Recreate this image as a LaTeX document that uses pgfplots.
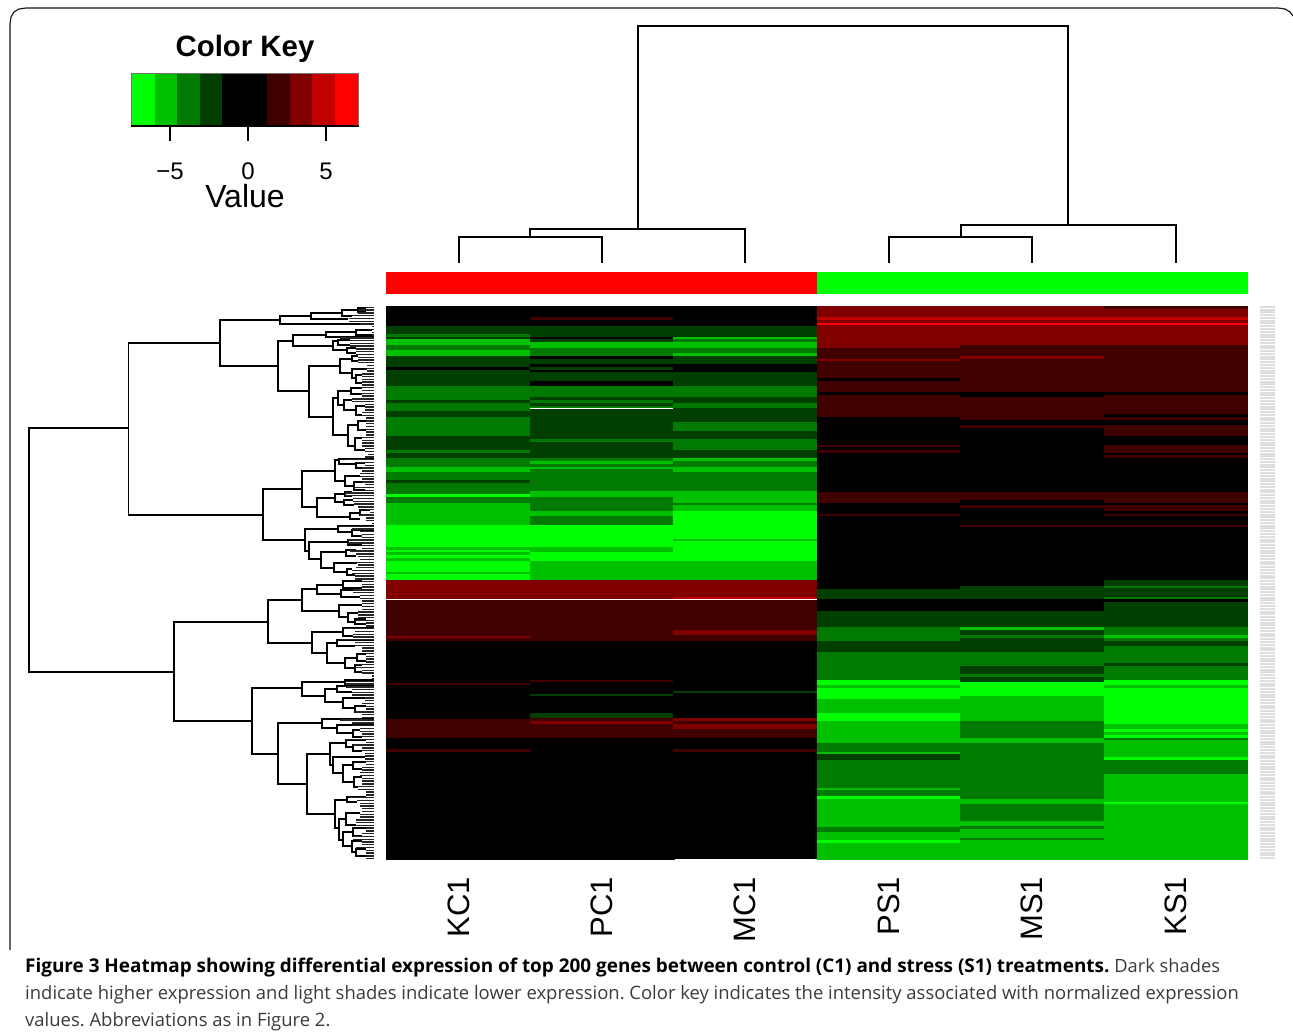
\documentclass[border=0pt]{standalone}
\usepackage{pgfplots}
\usepackage{fontspec}
\pgfplotsset{compat=1.18}
\setmainfont{Liberation Sans}
\newfontfamily\capfont{Open Sans}
\definecolor{m4}{HTML}{00FF00}\definecolor{m3}{HTML}{00C000}\definecolor{m2}{HTML}{007A00}\definecolor{m1}{HTML}{003F00}
\definecolor{z}{HTML}{000000}
\definecolor{p1}{HTML}{400000}\definecolor{p2}{HTML}{800000}\definecolor{p3}{HTML}{C00000}\definecolor{p4}{HTML}{FF0000}
\definecolor{w}{HTML}{FFFFFF}
\definecolor{capgray}{HTML}{3A3A3A}
\newcommand{\col}[3]{\foreach \a/\b/\c in {#3}{%
  \edef\t{\noexpand\addplot[fill=\c,draw=\c,line width=0.1pt,forget plot] coordinates {(#1,\a)(#2,\a)(#2,\b)(#1,\b)(#1,\a)};}\t}}
\newcommand{\rowfont}{\fontsize{2.7}{3}\selectfont}
\begin{document}
\begin{tikzpicture}
\path[use as bounding box] (0,0) rectangle (1293pt,1036pt);
\begin{axis}[at={(0,0)},anchor=south west,scale only axis,width=1293pt,height=1036pt,
  xmin=0,xmax=1293,ymin=0,ymax=1036,y dir=reverse,axis lines=none,clip=false,unbounded coords=jump]
% frame
\addplot[color=black!90,line width=1.2pt,forget plot] coordinates {(10,950)(10,24)(11,17)(14,12)(19,9)(26,8)(1278,8)(1285,9)(1290,12)(1293,16)};
% KC1
\col{386}{530}{306/326/z,326/334/m1,334/337/m2,337/339/m1,339/345/m3,345/350/m2,350/356/m3,356/367/m1,367/370/z,370/386/m1,386/400/m2,400/403/m1,403/411/m2,411/417/m1,417/436/m2,436/450/m1,450/453/m2,453/458/m1,458/467/m2,467/472/m3,472/480/m2,480/483/m1,483/494/m2,494/497/m4,497/503/m2,503/525/m3,525/547/m4,547/550/m3,550/552/m4,552/555/m3,555/558/m4,558/561/m3,561/572/m4,572/574/m3,574/580/m4,580/599/p2,599/600/w,600/636/p1,636/638/p2,638/641/p1,641/683/z,683/685/p1,685/719/z,719/738/p1,738/749/z,749/752/p1,752/859.05/z}
% PC1
\col{530}{673.6}{306/317/z,317/320/p1,320/326/z,326/337/m1,337/339/z,339/342/m1,342/348/m3,348/356/m2,356/359/z,359/364/m1,364/367/z,367/370/m1,370/372/z,372/381/m1,381/386/z,386/397/m2,397/400/m1,400/403/m2,403/406/m1,406/408/m2,408/409/w,409/439/m1,439/442/m2,442/458/m1,458/461/m2,461/464/m3,464/467/m2,467/469/m3,469/491/m2,491/497/m3,497/511/m2,511/516/m3,516/525/m2,525/547/m4,547/552/m3,552/561/m4,561/580/m3,580/599/p2,599/600/w,600/641/p1,641/680/z,680/682/p1,682/694/z,694/696/m1,696/713/z,713/718/m1,718/721/p1,721/724/p2,724/738/p1,738/859.05/z}
% MC1
\col{673}{817}{306/326/z,326/337/m1,337/339/m3,339/342/m2,342/348/m3,348/353/m2,353/356/m3,356/364/m1,364/372/z,372/386/m1,386/397/m2,397/403/m1,403/408/m2,408/422/m1,422/431/m2,431/439/m1,439/450/m2,450/458/m1,458/461/m3,461/467/m2,467/472/m3,472/491/m2,491/503/m3,503/505/m2,505/511/m3,511/539/m4,539/541/m3,541/561/m4,561/580/m3,580/597/p2,597/599/p3,599/600/w,600/630/p1,630/635/p2,635/641/p1,641/691/z,691/693/m1,693/718/z,718/721/p2,721/724/p1,724/729/p2,729/738/p1,738/749/z,749/752/p1,752/858.05/z}
% PS1
\col{817}{960}{306/317/p2,317/320/p3,320/323/p2,323/325/p4,325/348/p2,348/359/p1,359/361/p2,361/378/p1,378/381/z,381/392/p1,392/395/z,395/417/p1,417/445/z,445/447/p1,447/450/z,450/453/p1,453/492/z,492/503/p1,503/514/z,514/516/p1,516/589/z,589/599/m1,599/611/z,611/627/m1,627/641/m2,641/652/m1,652/680/m2,680/685/m4,685/688/m3,688/699/m4,699/713/m3,713/721/m4,721/743/m3,743/752/m2,752/754/m3,754/760/m1,760/788/m2,788/790/m3,790/796/m2,796/799/m4,799/827/m3,827/832/m2,832/840/m3,840/843/m4,843/859.05/m3}
% MS1
\col{960}{1104}{306/317/p2,317/320/p3,320/323/p2,323/325/p4,325/345/p2,345/356/p1,356/359/p2,359/392/p1,392/397/z,397/420/p1,420/425/z,425/428/p1,428/492/z,492/500/p1,500/505/z,505/508/p1,508/525/z,525/527/p1,527/586/z,586/599/m1,599/611/z,611/627/m1,627/630/m3,630/635/m1,635/638/m2,638/652/m1,652/666/m2,666/674/m1,674/677/m2,677/682/m1,682/696/m4,696/721/m3,721/738/m2,738/743/m3,743/799/m2,799/804/m3,804/821/m2,821/826/m3,826/829/m2,829/838/m3,838/840/m2,840/859.05/m3}
% KS1
\col{1104}{1247.05}{306/309/p1,309/317/p2,317/320/p3,320/323/p2,323/325/p4,325/345/p2,345/392/p1,392/395/z,395/414/p1,414/417/z,417/420/p1,420/425/z,425/436/p1,436/445/z,445/453/p1,453/455/z,455/458/p1,458/492/z,492/503/p1,503/505/z,505/511/p1,511/514/z,514/516/p1,516/525/z,525/527/p1,527/580/z,580/586/m1,586/588/m2,588/597/m1,597/599/m2,599/602/z,602/627/m1,627/635/m2,635/638/m3,638/641/m2,641/646/m1,646/663/m2,663/666/m1,666/680/m2,680/685/m4,685/688/m3,688/724/m4,724/729/m3,729/732/m4,732/735/m3,735/738/m4,738/740/m2,740/757/m3,757/760/m4,760/774/m2,774/802/m3,802/804/m4,804/859.05/m3}
% side colour bars
\col{386}{817}{272/293.05/p4}
\col{817}{1247.05}{272/293.05/m4}
% colour key
\foreach \a/\b/\c in {131.5/155/m4,155/177/m3,177/200/m2,200/222/m1,222/267/z,267/290/p1,290/312/p2,312/335/p3,335/358.5/p4}{%
  \edef\t{\noexpand\addplot[fill=\c,draw=none,forget plot] coordinates {(\a,73)(\b,73)(\b,126)(\a,126)(\a,73)};}\t}
\addplot[color=black!55,line width=0.7pt,forget plot] coordinates {(131.5,126)(131.5,73)(358.5,73)(358.5,126)};
\addplot[color=black,line width=1.4pt,forget plot] coordinates {(131,126)(359,126)};
\foreach \x in {170,248,326}{\edef\t{\noexpand\addplot[color=black,line width=1.4pt,forget plot] coordinates {(\x,126)(\x,141)};}\t}
\node[font=\fontsize{29.4}{32}\selectfont\bfseries] at (axis cs:245,49) {Color Key};
\node[font=\fontsize{24}{26}\selectfont,anchor=base] at (axis cs:170,179) {−5};
\node[font=\fontsize{24}{26}\selectfont,anchor=base] at (axis cs:248,179) {0};
\node[font=\fontsize{24}{26}\selectfont,anchor=base] at (axis cs:326,179) {5};
\node[font=\fontsize{32}{34}\selectfont,anchor=base] at (axis cs:245,207.5) {Value};
% column labels
\foreach \x/\l in {459/KC1,602/PC1,745/MC1,889/PS1,1032/MS1,1176/KS1}{%
  \edef\t{\noexpand\node[font=\noexpand\fontsize{31}{33}\noexpand\selectfont,rotate=90,anchor=east] at (axis cs:\x,873.5) {\l};}\t}
% top dendrogram
\addplot[color=black,line width=1.8pt,forget plot] coordinates {
(638,229)(638,26)(1068,26)(1068,225)(1068,nan)
(530,237)(530,229)(745,229)(745,263)(745,nan)
(459,263)(459,237)(602,237)(602,263)(602,nan)
(961,237)(961,225)(1176,225)(1176,263)(1176,nan)
(889,263)(889,237)(1032,237)(1032,263)};
% left dendrogram: x, top y, top child x, bottom y, bottom child x
\xdef\brk{}
\foreach \x/\ya/\xa/\yb/\xb in {29/428/128/672/174,128.5/343/220/515/263,220/320/280/366/278,280/316/311/324/374,311/313/342/319/348,342/310/358/316/352,358/308/366/312/366,278/341/293/391/309,293/335/326/346/333,326/332/356/337/374,356/330/372/335/374,333/341/338/350/347,338/340/350/345/350,347/348/356/353/356,309/366/340/417/333,340/359/352/373/352,352/356/358/361/358,352/369/367/378/356,356/375/362/383/362,333/398/338/435/348,338/391/351/405/344,351/388/362/394/362,344/400/352/410/356,356/406/365/415/362,348/425/358/446/355,358/421/366/430/366,355/438/362/450/365,263/489/302/540/305,302/471/335/507/317,335/460/339/481/345,339/459/374/464/356,356/463/365/468/362,345/476/360/486/354,354/482/362/490/365,317/498/335/517/350,335/494/345/502/344,345/492/352/496/352,344/500/353/505/354,350/513/360/519/360,360/510/370/515/370,305/529/338/551/309,338/526/374/532/352,352/530/374/536/362,309/542/348/559/321,348/540/366/545/362,321/552/346/568/334,346/550/356/556/356,334/563/357/572/347,347/569/352/575/355,174/622/268/721/252,268/600/302/643/312,302/589/317/611/339,317/585/343/594/341,343/581/362/588/362,341/590/353/597/360,339/605/362/617/348,348/613/358/622/355,355/619/366/624/366,312/632/343/653/327,343/628/374/636/353,327/643/337/663/345,337/640/374/646/355,345/658/357/668/355,357/654/366/661/366,355/665/362/672/362,252/688/302/754/278,302/682/345/696/325,345/680/374/686/374,325/689/337/702/343,337/686/374/692/352,343/698/365/708/355,355/706/366/712/366,278/723/322/784/307,322/719/374/728/337,337/725/374/733/353,353/730/360/737/362,307/754/330/814/335,330/743/346/765/333,333/757/365/773/343,346/740/366/747/353,353/745/362/751/362,343/765/353/782/354,353/762/366/769/362,354/777/362/787/358,335/800/347/828/339,347/797/366/802/357,339/819/346/840/343,346/813/360/825/356,343/832/353/846/352,353/828/366/836/362,352/841/362/852/356,356/849/366/856/366}{%
  \xdef\brk{\brk(\xa,\ya)(\x,\ya)(\x,\yb)(\xb,\yb)(\xb,nan)}}
\edef\t{\noexpand\addplot[color=black,line width=1.8pt,line join=miter,forget plot] coordinates {\brk};}\t
% leaves: start of each of the 200 rows
\xdef\lvs{}
\foreach \s [count=\i] in {366,358,358,352,349,349,360,372,372,372,372,340,350,350,350,356,356,356,358,358,358,367,367,367,362,362,362,362,362,362,362,362,362,352,352,365,365,365,362,362,366,366,366,366,366,366,366,362,362,362,362,365,365,368,365,345,357,365,362,362,360,360,362,362,365,354,365,345,345,353,353,354,358,366,370,360,366,366,372,340,352,360,362,362,348,348,362,362,350,356,358,360,357,358,356,352,352,355,355,362,362,362,353,353,360,360,362,362,362,362,358,358,358,355,366,366,345,355,353,353,340,355,355,362,362,366,366,366,366,355,355,362,362,372,372,346,346,346,352,352,352,365,365,362,366,366,355,362,362,340,352,352,360,360,362,362,346,366,353,362,362,365,365,365,366,366,362,362,360,360,362,362,362,358,358,366,366,350,357,360,360,362,362,360,360,356,356,356,366,366,362,353,353,362,362,356,366,366,366,366}{%
  \pgfmathsetmacro\y{306+2.77*(\i-0.5)}%
  \xdef\lvs{\lvs(\s,\y)(374,\y)(374,nan)}%
  \edef\t{\noexpand\node[font=\noexpand\rowfont,text=black!45,anchor=west,inner sep=0pt] at (axis cs:1260,\y) {0000000000};}\t}
\edef\t{\noexpand\addplot[color=black!85,line width=1.4pt,forget plot] coordinates {\lvs};}\t
% caption
\node[anchor=base west,inner sep=0pt,font=\capfont\fontsize{18.92}{22}\selectfont\frenchspacing] at (axis cs:25,972) {\textbf{Figure 3 Heatmap showing differential expression of top 200 genes between control (C1) and stress (S1) treatments.} \textcolor{capgray}{\fontsize{18.3}{22}\selectfont Dark shades}};
\node[anchor=base west,inner sep=0pt,font=\capfont\fontsize{18.45}{22}\selectfont\frenchspacing,text=capgray] at (axis cs:25,999) {indicate higher expression and light shades indicate lower expression. Color key indicates the intensity associated with normalized expression};
\node[anchor=base west,inner sep=0pt,font=\capfont\fontsize{18.45}{22}\selectfont\frenchspacing,text=capgray] at (axis cs:25,1026) {values. Abbreviations as in Figure 2.};
\end{axis}
\end{tikzpicture}
\end{document}
